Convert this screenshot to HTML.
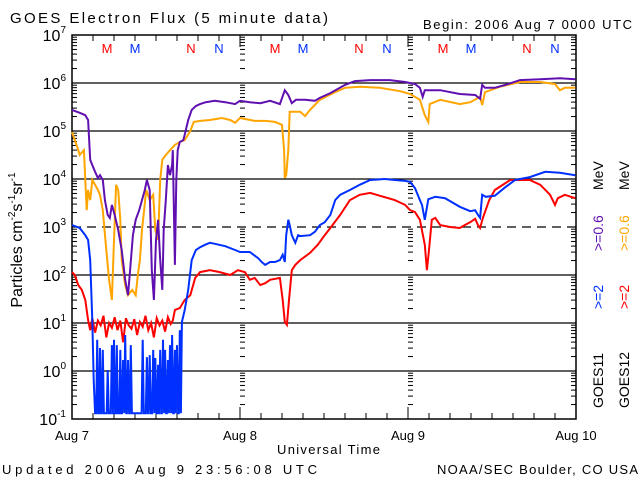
<!DOCTYPE html>
<html><head><meta charset="utf-8"><style>
body{margin:0;background:#fff;}
svg{display:block;font-family:"Liberation Sans","DejaVu Sans",sans-serif;}
</style></head><body>
<svg id="chart" width="640" height="480" viewBox="0 0 640 480" xmlns="http://www.w3.org/2000/svg">
<rect width="640" height="480" fill="#fff"/>
<text x="10" y="23" font-size="15" textLength="318" lengthAdjust="spacing">GOES Electron Flux (5 minute data)</text>
<text x="423" y="29" font-size="13" textLength="209" lengthAdjust="spacing">Begin: 2006 Aug 7 0000 UTC</text>
<text x="277" y="454" font-size="13" textLength="103" lengthAdjust="spacing">Universal Time</text>
<text x="2" y="474" font-size="13" textLength="315" lengthAdjust="spacing">Updated 2006 Aug  9 23:56:08 UTC</text>
<text x="437" y="474" font-size="13" textLength="201" lengthAdjust="spacing">NOAA/SEC Boulder, CO USA</text>
<text transform="translate(22,240) rotate(-90)" font-size="16" text-anchor="middle">Particles cm<tspan font-size="10" dy="-7">-2</tspan><tspan dy="7">s</tspan><tspan font-size="10" dy="-7">-1</tspan><tspan dy="7">sr</tspan><tspan font-size="10" dy="-7">-1</tspan></text>
<g font-size="14">
<text transform="translate(603,190) rotate(-90)" fill="#000">MeV</text>
<text transform="translate(603,251) rotate(-90)" fill="#6010b0">&gt;=0.6</text>
<text transform="translate(603,309) rotate(-90)" fill="#0030ff">&gt;=2</text>
<text transform="translate(603,408) rotate(-90)" fill="#000">GOES11</text>
<text transform="translate(629,190) rotate(-90)" fill="#000">MeV</text>
<text transform="translate(629,251) rotate(-90)" fill="#ffa500">&gt;=0.6</text>
<text transform="translate(629,309) rotate(-90)" fill="#ff0000">&gt;=2</text>
<text transform="translate(629,408) rotate(-90)" fill="#000">GOES12</text>
</g>
<g id="axes"></g>
<g id="series"></g>
</svg>
<script>
// ---- data (time in hours since Aug 7 00 UTC, values as log10 flux) ----
const dayLabels = ["Aug 7","Aug 8","Aug 9","Aug 10"];
const yTickExps = [7,6,5,4,3,2,1,0,-1];
const markerLabels = ["M","M","N","N"];
const markerHours = [5,9,17,21];
const purpleT = [0,1.1,1.9,2.3,2.6,2.9,3.3,3.7,4.0,4.4,4.7,5.1,5.4,5.7,6.1,6.6,7.1,7.6,8.0,8.3,8.7,9.1,9.6,10.0,10.4,10.7,11.1,11.4,11.7,12.0,12.3,12.6,12.9,13.1,13.4,13.7,14.0,14.3,14.4,14.7,14.9,15.1,15.4,15.9,16.1,16.6,17.1,17.7,18.3,19.1,20.4,21.9,23.3,24.0,25.4,26.9,28.3,29.7,30.4,30.9,31.4,32.0,33.3,34.7,35.4,36.9,39.0,40.4,42.6,45.4,47.6,49.0,49.7,50.1,50.4,52.6,55.4,57.6,58.3,58.6,59.0,60.4,61.9,64.0,66.9,69.7,71.9];
const purpleV = [5.44,5.38,5.33,5.23,4.40,4.29,4.15,4.02,4.08,3.98,3.56,3.25,3.19,3.46,3.25,2.94,2.52,1.90,1.58,2.10,2.83,3.15,3.35,3.56,3.77,3.98,3.77,2.10,1.48,2.73,3.15,2.31,1.69,2.94,3.56,4.29,4.08,4.29,4.60,2.21,3.98,4.60,4.77,4.81,4.92,5.23,5.44,5.52,5.56,5.60,5.63,5.60,5.56,5.63,5.60,5.58,5.63,5.56,5.85,5.75,5.58,5.65,5.65,5.63,5.69,5.79,5.96,6.04,6.06,6.06,6.02,5.98,5.90,5.71,5.85,5.85,5.77,5.75,5.67,5.96,5.90,5.90,5.96,6.06,6.08,6.10,6.08];
const orangeT = [0,0.4,0.9,1.1,1.7,1.9,2.1,2.3,2.6,2.9,3.3,3.7,4.0,4.4,4.9,5.3,5.7,6.0,6.3,6.6,6.9,7.1,7.6,8.0,8.6,9.1,9.4,9.7,10.0,10.3,10.6,11.1,11.6,11.9,12.3,12.6,12.9,13.4,14.0,14.7,15.4,16.1,16.9,17.4,18.3,19.7,21.4,22.6,23.3,24.0,26.1,27.6,29.0,30.0,30.3,30.4,30.6,30.9,31.1,32.6,33.3,34.0,35.4,37.6,39.0,41.1,44.0,46.9,48.3,49.7,50.4,50.9,51.1,52.6,55.4,56.9,58.3,58.6,59.0,61.1,64.0,66.9,69.0,69.7,70.4,71.9];
const orangeV = [4.98,4.81,4.60,4.50,4.60,3.98,3.35,3.77,3.56,3.98,3.88,3.77,3.67,3.35,2.52,1.90,1.48,2.73,3.88,3.77,3.15,2.31,1.79,1.58,1.69,1.58,2.00,2.31,2.94,3.35,3.77,3.56,3.67,2.94,2.73,3.98,4.40,4.50,4.60,4.71,4.77,4.81,5.00,5.19,5.21,5.23,5.27,5.23,5.17,5.27,5.21,5.21,5.19,5.13,4.60,4.02,4.08,4.60,5.40,5.40,5.31,5.44,5.65,5.81,5.90,5.92,5.90,5.83,5.77,5.65,5.33,5.19,5.56,5.65,5.56,5.60,5.71,5.54,5.81,5.92,6.02,6.02,5.98,5.85,5.90,5.90];
const blueT = [0,1.1,1.9,2.3,2.6,2.9,3.1];
const blueV = [3.04,2.98,2.83,2.73,2.31,1.06,-0.19];
const blueSpikeT = [3.6,4.0,4.4,5.1,5.7,6.0,6.4,6.9,7.3,7.6,8.0,8.4,10.1,10.7,11.1,11.6,11.9,12.3,12.6,13.0,13.3,13.7,14.0,14.3,14.7,15.0,15.4];
const blueSpikeV = [0.65,0.48,0.44,0.02,0.54,0.65,0.54,0.44,0.23,0.75,0.23,0.54,0.65,0.29,0.33,0.44,0.27,0.13,0.44,0.65,0.44,0.23,0.54,0.75,0.44,0.54,0.85];
const blueFloor = -0.88;
const blueT2 = [15.7,16.1,16.6,17.1,17.7,18.3,19.0,19.7,20.4,21.9,23.3,24.0,25.4,26.6,27.1,27.6,28.3,29.0,29.7,30.1,30.4,30.6,30.9,31.1,31.4,31.9,32.3,32.6,34.0,34.7,35.4,36.1,36.9,37.6,38.3,39.7,41.1,42.6,44.7,46.1,47.6,48.3,49.0,49.7,50.0,50.4,50.9,51.9,53.3,55.4,56.9,57.6,58.0,58.3,58.6,59.1,60.4,61.9,63.3,65.4,67.6,69.7,71.9];
const blueV2 = [1.02,1.27,1.69,2.31,2.52,2.58,2.63,2.67,2.65,2.60,2.52,2.48,2.48,2.35,2.27,2.21,2.27,2.27,2.31,2.42,2.27,2.83,3.15,3.04,2.83,2.67,2.83,2.81,2.83,2.90,3.04,3.10,3.25,3.56,3.67,3.77,3.88,3.98,4.00,3.98,3.96,3.94,3.81,3.56,3.46,3.15,3.58,3.63,3.60,3.42,3.33,3.35,3.25,3.19,3.67,3.63,3.65,3.83,3.98,4.04,4.15,4.13,4.08];
const redT = [0,0.4,0.9,1.4,1.9,2.3,2.6,2.9,3.3,3.7,4.1,4.5,4.9,5.3,5.7,6.1,6.5,6.9,7.3,7.7,8.1,8.5,8.9,9.3,9.7,10.1,10.5,10.9,11.3,11.7,12.1,12.5,12.9,13.3,13.7,14.1,14.4,14.7,15.4,16.1,16.9,17.6,18.3,19.7,21.1,22.6,23.7,24.7,25.4,26.1,26.9,27.6,28.3,29.7,30.1,30.4,30.7,31.0,31.4,31.9,32.6,34.0,35.1,36.1,36.9,38.3,39.7,41.1,42.6,44.0,46.1,47.6,48.3,49.0,49.7,50.4,50.7,51.0,51.4,51.9,52.6,54.0,55.4,56.1,56.9,57.6,58.0,58.3,58.7,59.6,60.4,62.6,65.4,66.9,68.3,69.0,69.4,70.4,71.9];
const redV = [2.06,2.00,1.79,1.69,1.48,1.06,0.85,1.10,0.80,1.05,0.95,1.15,0.70,1.00,0.90,1.12,0.85,1.05,0.60,1.10,0.95,0.88,1.08,0.75,1.02,0.92,1.15,0.85,1.00,0.70,1.10,0.95,1.05,0.82,1.12,0.98,1.05,1.27,1.31,1.48,1.58,1.94,2.06,2.10,2.06,2.00,2.10,2.06,1.90,1.94,1.79,1.83,1.90,1.94,1.48,1.02,0.96,1.48,2.10,2.21,2.31,2.46,2.63,2.83,2.98,3.25,3.56,3.67,3.71,3.65,3.56,3.46,3.35,3.31,3.15,2.63,2.10,2.52,3.15,3.19,3.04,3.00,2.98,3.04,3.10,3.17,3.04,2.98,3.19,3.56,3.77,3.98,3.98,3.88,3.67,3.46,3.60,3.67,3.60];

// ---- axis functions ----
const X0=72,X1=576,Y0=35,Y1=419,HOURS=72,LMIN=-1,LMAX=7;
const xs=h=>X0+(X1-X0)*h/HOURS;
const ys=l=>Y1-(Y1-Y0)*(l-LMIN)/(LMAX-LMIN);
const NS="http://www.w3.org/2000/svg";
function mk(tag,attrs,parent){const e=document.createElementNS(NS,tag);for(const k in attrs)e.setAttribute(k,attrs[k]);parent.appendChild(e);return e;}
const ax=document.getElementById('axes');
const se=document.getElementById('series');

for(const e of yTickExps){
  if(e===7||e===-1)continue;
  const g=mk('line',{x1:X0,x2:X1,y1:ys(e),y2:ys(e),stroke:'#000','stroke-width':1.3},ax);
  if(e===3)g.setAttribute('stroke-dasharray','9,6');
  
  
}
for(let d=LMIN;d<LMAX;d++){
  for(let m=1;m<10;m++){
    const y=ys(d+Math.log10(m));
    const len=m===1?9:5;
    const t1=mk('line',{x1:X0,x2:X0+len,y1:y,y2:y,stroke:'#000','stroke-width':1},ax);
    
    
    const t2=mk('line',{x1:X1,x2:X1-len,y1:y,y2:y,stroke:'#000','stroke-width':1},ax);
    
    
    if(m>1){
      for(let dd=1;dd<dayLabels.length-1;dd++){
        const xx=xs(dd*24);
        const tm=mk('line',{x1:xx,x2:xx+5,y1:y,y2:y,stroke:'#000','stroke-width':1},ax);
        
        
      }
    }
  }
}
for(const e of yTickExps){
  const t=mk('text',{x:X0-6,y:ys(e)+6,'font-size':16,'text-anchor':'end'},ax);
  
  
  t.innerHTML='10<tspan font-size="10" dy="-8">'+e+'</tspan>';
}
for(let h=0;h<=HOURS;h+=3){
  const x=xs(h),len=h%24===0?12:6;
  const a=mk('line',{x1:x,x2:x,y1:Y1,y2:Y1-len,stroke:'#000','stroke-width':1},ax);
  
  
  const b=mk('line',{x1:x,x2:x,y1:Y0,y2:Y0+len,stroke:'#000','stroke-width':1},ax);
  
  
}
dayLabels.forEach((s,i)=>{
  const t=mk('text',{x:xs(i*24),y:440,'font-size':13,'text-anchor':'middle'},ax);
  
  
  t.textContent=s;
});
for(let d=0;d<3;d++){
  markerHours.forEach((h,i)=>{
    const t=mk('text',{x:xs(d*24+h),y:53,'font-size':13,'text-anchor':'middle',fill:i%2===0?'#ff0000':'#0030ff'},ax);
    
    
    t.textContent=markerLabels[i];
  });
}
const fr=mk('rect',{x:X0,y:Y0,width:X1-X0,height:Y1-Y0,fill:'none',stroke:'#000','stroke-width':1.5},ax);



function line(T,V,color,name){
  const d=T.map((t,i)=>(i?'L':'M')+xs(t).toFixed(1)+','+ys(Math.max(LMIN,V[i])).toFixed(1)).join('');
  const p=mk('path',{d:d,fill:'none',stroke:color,'stroke-width':2,'stroke-linejoin':'miter'},se);
  
  
}
const bT=[...blueT],bV=[...blueV];
bT.push(3.3);bV.push(blueFloor);
blueSpikeT.forEach((t,i)=>{bT.push(t-0.15,t,t+0.15);bV.push(blueFloor,blueSpikeV[i],blueFloor);});
bT.push(...blueT2);bV.push(...blueV2);
line(orangeT,orangeV,'#ffa500','series-goes12-06mev');
line(purpleT,purpleV,'#6010b0','series-goes11-06mev');
line(redT,redV,'#ff0000','series-goes12-2mev');
line(bT,bV,'#0030ff','series-goes11-2mev');
</script>
</body></html>
